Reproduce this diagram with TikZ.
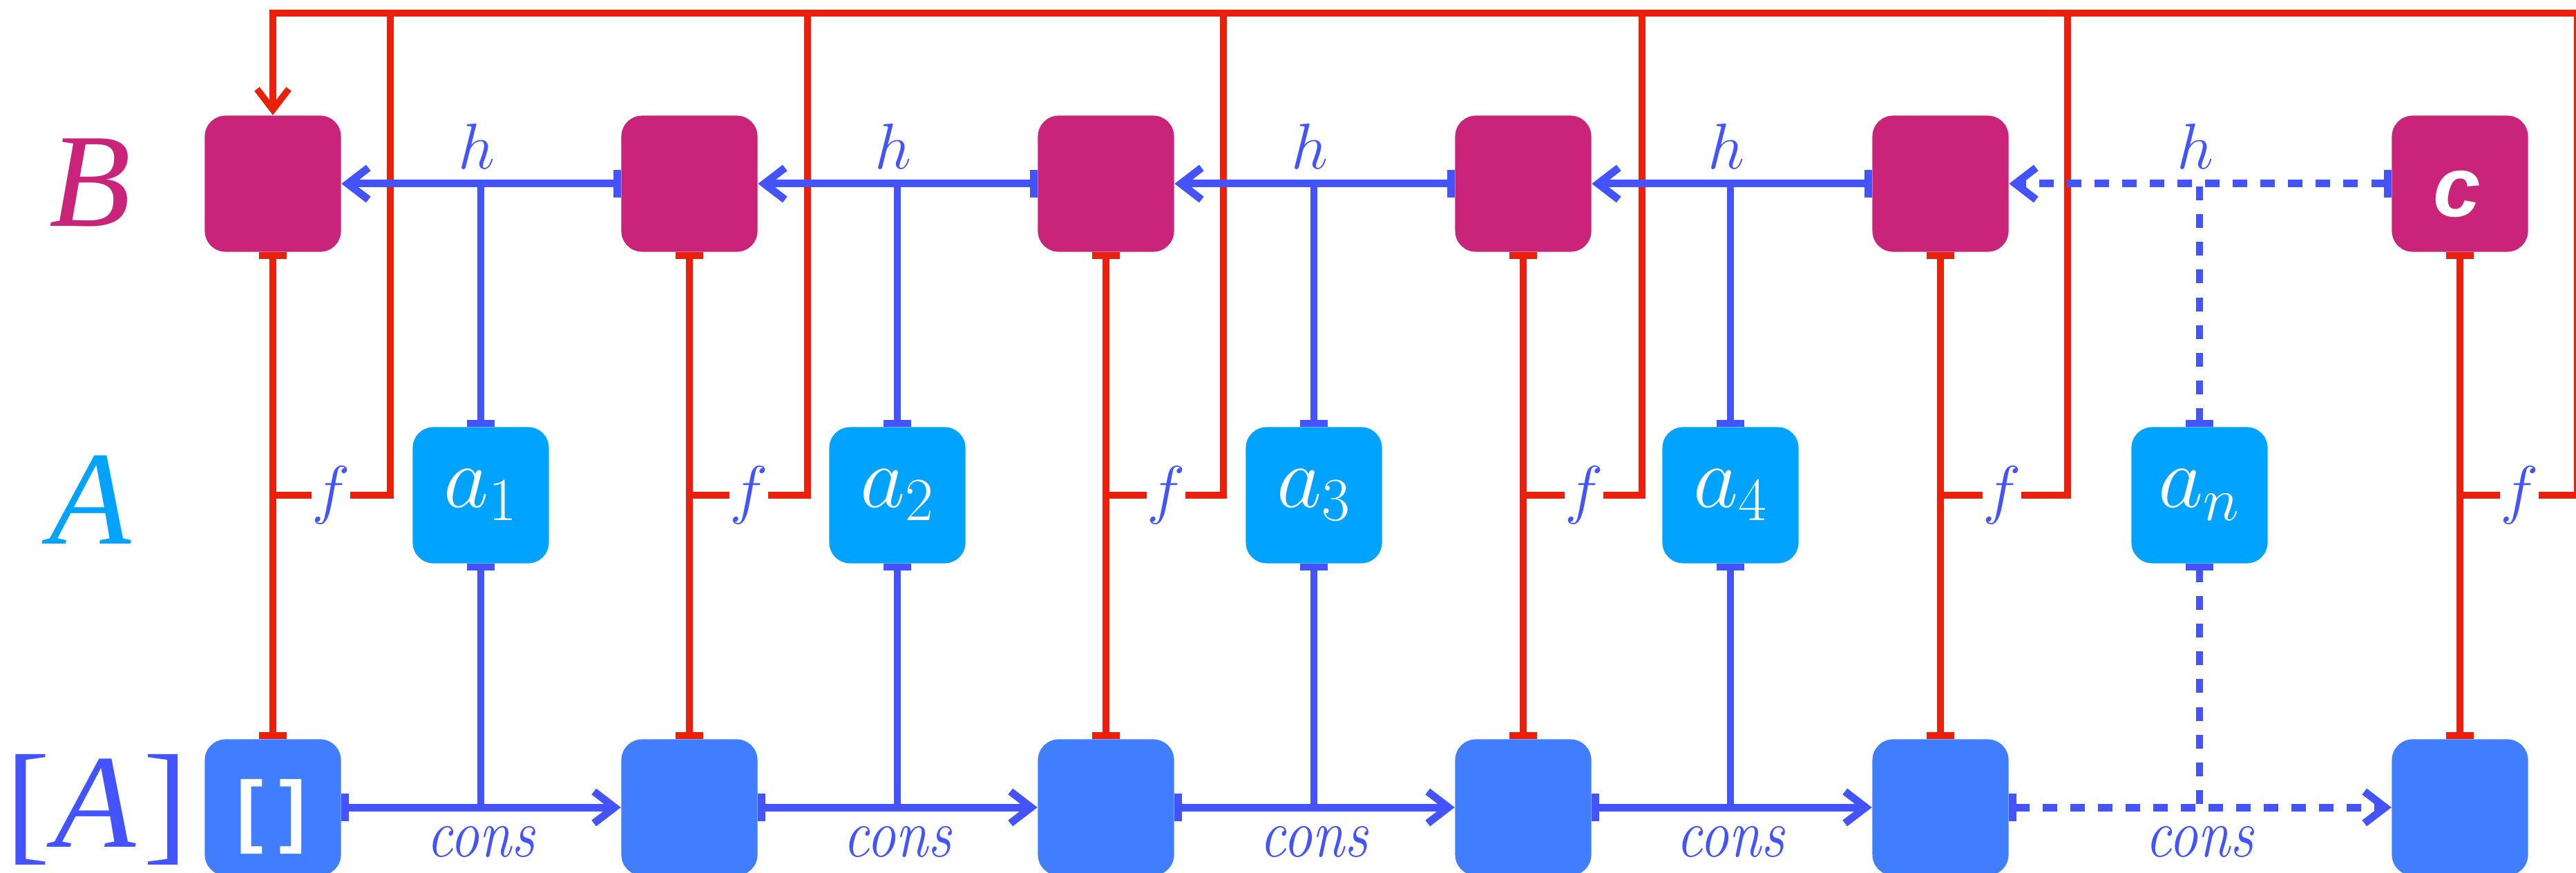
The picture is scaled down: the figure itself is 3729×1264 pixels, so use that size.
\RequirePackage{fix-cm}
\documentclass[tikz,border=0pt]{standalone}
\usepackage{fontspec}
\newfontfamily\lsans{Liberation Sans}
\newfontfamily\lserif{Liberation Serif}
\usetikzlibrary{arrows.meta}
\definecolor{bmag}{HTML}{C9247A}
\definecolor{acyan}{HTML}{00A3FF}
\definecolor{lblue}{HTML}{407EFF}
\definecolor{wblue}{HTML}{4354FF}
\definecolor{wred}{HTML}{E8200C}
\tikzset{
  mybar/.tip={Bar[width=0.4cm]},
  mybarb/.tip={Straight Barb[length=0.3cm,width=0.46cm]},
  maps/.style={mybar-mybarb},
  bothbar/.style={mybar-mybar},
  box/.style={rounded corners=0.3cm, minimum width=1.97cm, minimum height=1.97cm, inner sep=0pt},
  bnode/.style={box, fill=bmag},
  anode/.style={box, fill=acyan, text=white, font=\fontsize{36}{40}\selectfont},
  lnode/.style={box, fill=lblue},
  redln/.style={draw=wred, line width=0.095cm},
  bluh/.style={draw=wblue, line width=0.11cm},
  bluv/.style={draw=wblue, line width=0.095cm},
  dsh/.style={dash pattern=on 0.21cm off 0.19cm},
  dshv/.style={dash pattern=on 0.2cm off 0.2cm},
  biglab/.style={inner sep=0pt, font=\lserif\fontsize{55}{60}\selectfont},
  smlab/.style={inner sep=0pt, text=wblue, font=\fontsize{26.7}{30}\selectfont},
  flab/.style={smlab, minimum width=0.52cm},
  wtxt/.style={inner sep=0pt, text=white}
}
\begin{document}
\begin{tikzpicture}[x=0.01cm,y=-0.01cm]
\useasboundingbox (0,0) rectangle (3729,1264);
% boxes
\foreach \i/\x in {1/395,2/998,3/1601,4/2205,5/2809,6/3561}{
  \node[bnode] (B\i) at (\x,266) {};
  \node[lnode] (L\i) at (\x,1169) {};
}
\node[anode] (a1) at (696,717) {$a_1$};
\node[anode] (a2) at (1299,717) {$a_2$};
\node[anode] (a3) at (1902,717) {$a_3$};
\node[anode] (a4) at (2505,717) {$a_4$};
\node[anode] (a5) at (3184,717) {$a_n$};
\node[wtxt, font=\lsans\bfseries\itshape\fontsize{35}{40}\selectfont] (ctxt) at (3557,281) {c};
\node[wtxt, font=\lsans\bfseries\fontsize{33}{40}\selectfont] (nil) at (393,1182) {[\kern0.2em]};
% row labels
\node[biglab, text=bmag] (labB) at (131,264) {\itshape B};
\node[biglab, text=acyan] (labA) at (131,724) {\itshape A};
\node[biglab, text=wblue] (labL) at (140,1172) {[\kern0.03em\textit{A}\kern0.05em]};
% red structure
\coordinate (tR) at (3780,19);
\draw[redln, -mybarb] (tR) -- (B1.north |- tR) -- (B1.north);
\foreach \i/\fx/\lx in {1/479/565,2/1084/1169,3/1688/1771,4/2293/2377,5/2898/2993,6/3647/3731}{
  \draw[redln, bothbar] (B\i.south) -- (L\i.north);
  \node[flab] (f\i) at (\fx,717) {$f$};
  \coordinate (t\i) at (\lx,19);
  \draw[redln] (f\i.west) -- (f\i.west -| B\i.south);
  \draw[redln] (f\i.east) -| (t\i);
}
% blue: h and cons
\foreach \i/\j in {1/2,2/3,3/4,4/5}{
  \draw[bluh, maps] (B\j.west) -- (B\i.east);
  \draw[bluh, maps] (L\i.east) -- (L\j.west);
}
\draw[bluh, maps, dsh] (B6.west) -- (B5.east);
\draw[bluh, maps, dsh] (L5.east) -- (L6.west);
\foreach \i in {1,2,3,4}{
  \draw[bluv, mybar-] (a\i.north) -- (a\i.north |- B1.east);
  \draw[bluv, mybar-] (a\i.south) -- (a\i.south |- L1.east);
}
\draw[bluv, dshv, mybar-] (a5.north) -- (a5.north |- B1.east);
\draw[bluv, dshv, mybar-] (a5.south) -- (a5.south |- L1.east);
% labels h and cons
\foreach \i/\x in {1/696,2/1299,3/1902,4/2505,5/3184}{
  \node[smlab, anchor=south] (h\i) at (\x-6,245) {$h$};
  \node[smlab, anchor=base, font=\fontsize{28.4}{30}\selectfont] (cons\i) at (\x,1240) {\scalebox{0.85}[1]{\itshape cons}};
}
\end{tikzpicture}
\end{document}
